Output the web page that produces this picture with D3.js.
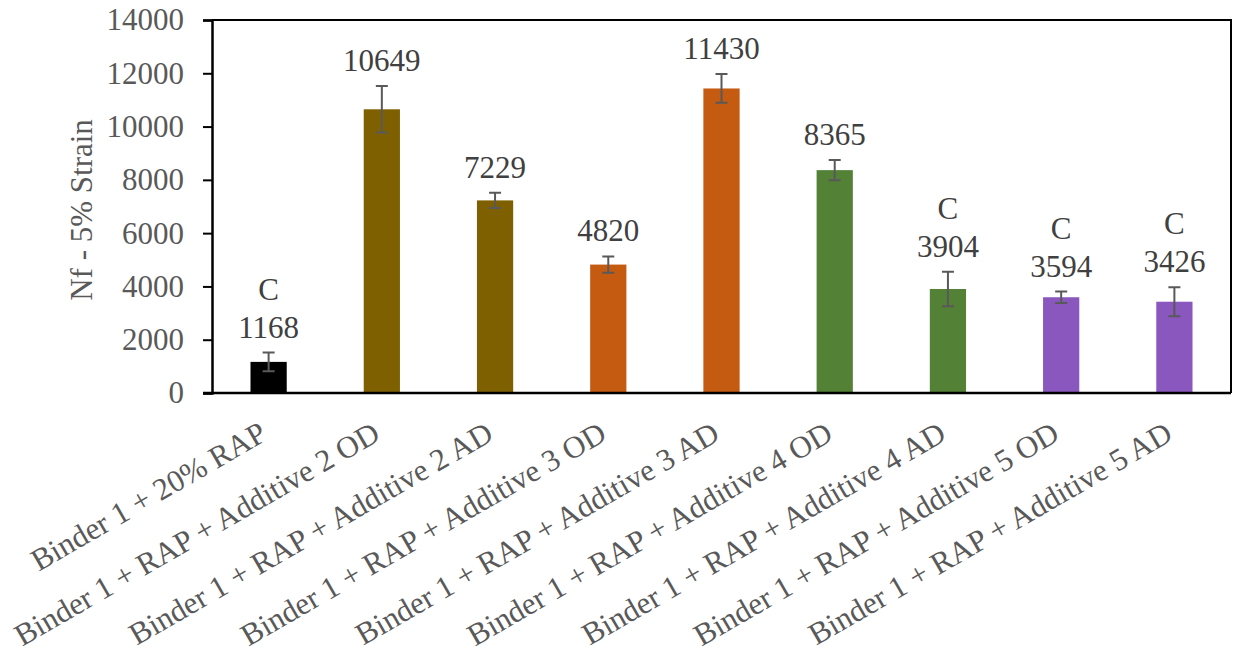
<!DOCTYPE html>
<html>
<head>
<meta charset="utf-8">
<script src="https://cdn.jsdelivr.net/npm/d3@7"></script>
<style>
  html, body { margin: 0; padding: 0; background: #fff; }
  svg { display: block; }
  svg text { font-family: 'Liberation Serif' !important; }
</style>
</head>
<body>
<svg id="chart" width="1233" height="666"></svg>
<script>
const categories = [
  "Binder 1 + 20% RAP",
  "Binder 1 + RAP + Additive 2 OD",
  "Binder 1 + RAP + Additive 2 AD",
  "Binder 1 + RAP + Additive 3 OD",
  "Binder 1 + RAP + Additive 3 AD",
  "Binder 1 + RAP + Additive 4 OD",
  "Binder 1 + RAP + Additive 4 AD",
  "Binder 1 + RAP + Additive 5 OD",
  "Binder 1 + RAP + Additive 5 AD"
];
const values = [1168, 10649, 7229, 4820, 11430, 8365, 3904, 3594, 3426];
const errors = [350, 870, 285, 305, 540, 378, 645, 212, 545];
const letters = ["C", "", "", "", "", "", "C", "C", "C"];
const barColors = ["#000000", "#7F6000", "#7F6000", "#C55A11", "#C55A11", "#538135", "#538135", "#8957BE", "#8957BE"];
const yTicks = [0, 2000, 4000, 6000, 8000, 10000, 12000, 14000];
const yTitle = "Nf - 5% Strain";

const FONT = "'Liberation Serif'";
const svg = d3.select("#chart").attr("font-family", FONT).style("font-family", FONT);
const L = 212, R = 1231, T = 20, B = 393;

const x = d3.scaleBand().domain(categories).range([L, R]).paddingInner(0.68).paddingOuter(0.34);
const y = d3.scaleLinear().domain([0, 14000]).range([B, T]);

// plot border (top & right)
svg.append("path")
  .attr("d", `M${L},${T}H${R}V${B}`)
  .attr("fill", "none").attr("stroke", "#000").attr("stroke-width", 2);

// bars
svg.append("g").selectAll("rect").data(values).join("rect")
  .attr("x", (d, i) => x(categories[i]))
  .attr("width", x.bandwidth())
  .attr("y", d => y(d))
  .attr("height", d => y(0) - y(d))
  .attr("fill", (d, i) => barColors[i]);

// error bars
const eg = svg.append("g").attr("stroke", "#595959").attr("stroke-width", 2).attr("fill", "none");
values.forEach((v, i) => {
  const cx = x(categories[i]) + x.bandwidth() / 2;
  const y1 = y(v + errors[i]), y2 = y(v - errors[i]);
  const cw = 6;
  eg.append("path").attr("d", `M${cx},${y1}V${y2}M${cx - cw},${y1}H${cx + cw}M${cx - cw},${y2}H${cx + cw}`);
});

// data labels
const lg = svg.append("g").attr("fill", "#404040").attr("font-size", 31).attr("text-anchor", "middle");
values.forEach((v, i) => {
  const cx = x(categories[i]) + x.bandwidth() / 2;
  const base = y(v + errors[i]) - 15;
  lg.append("text").attr("x", cx).attr("y", base).style("font-family", FONT).text(v);
  if (letters[i]) lg.append("text").attr("x", cx).attr("y", base - 38).style("font-family", FONT).text(letters[i]);
});

// y axis
const yAxis = svg.append("g").attr("transform", `translate(${L},0)`)
  .call(d3.axisLeft(y).tickValues(yTicks).tickSize(9).tickPadding(19).tickFormat(d3.format("d")));
yAxis.attr("font-family", null);
yAxis.select(".domain").attr("stroke", "#000").attr("stroke-width", 2.5);
yAxis.selectAll(".tick line").attr("stroke", "#000").attr("stroke-width", 2);
yAxis.selectAll(".tick text").attr("fill", "#595959").attr("font-size", 31).style("font-family", FONT);

// x axis
const xAxis = svg.append("g").attr("transform", `translate(0,${B})`)
  .call(d3.axisBottom(x).tickSize(0).tickSizeOuter(0).tickFormat(() => ""));
xAxis.select(".domain").attr("stroke", "#000").attr("stroke-width", 2.5)
  .attr("d", `M${L - 9},0H${R}`);

// x labels rotated
svg.append("g").selectAll("text").data(categories).join("text")
  .attr("transform", d => `translate(${x(d) + x.bandwidth() / 2},439) rotate(-30)`)
  .attr("text-anchor", "end")
  .attr("fill", "#595959")
  .attr("font-size", 31)
  .style("font-family", FONT)
  .text(d => d);

// y title
svg.append("text")
  .attr("transform", `translate(92,210) rotate(-90)`)
  .attr("text-anchor", "middle")
  .attr("fill", "#595959")
  .attr("font-size", 31)
  .style("font-family", FONT)
  .text(yTitle);
</script>
</body>
</html>
